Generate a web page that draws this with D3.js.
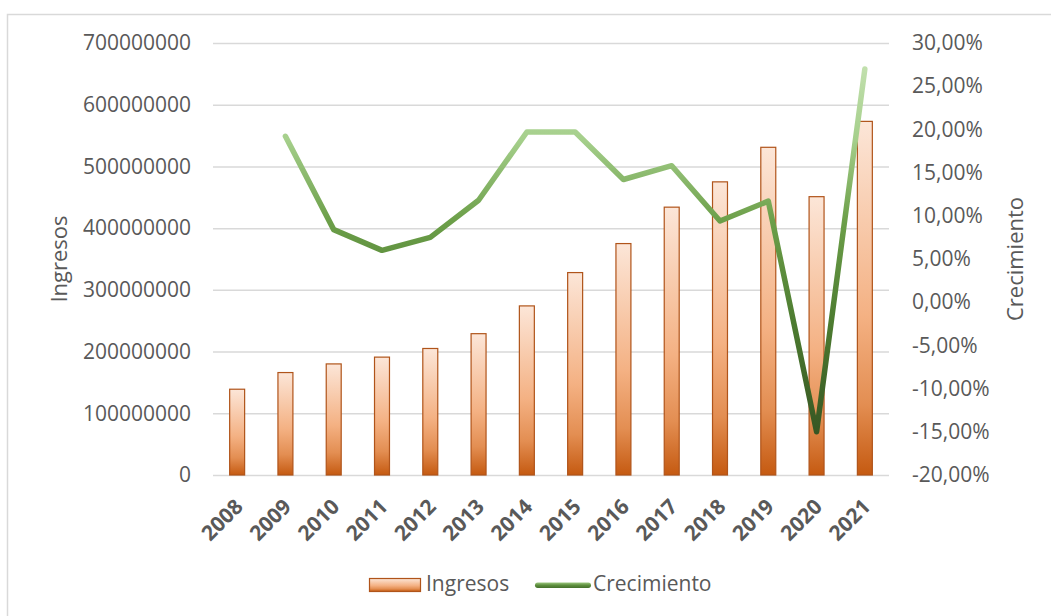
<!DOCTYPE html>
<html>
<head>
<meta charset="utf-8">
<script src="https://cdn.jsdelivr.net/npm/d3@7/dist/d3.min.js"></script>
<style>
  html, body { margin: 0; padding: 0; background: #fff; }
  svg { display: block; }
  text { font-family: "Open Sans", "Noto Sans", sans-serif; fill: #595959; }
</style>
</head>
<body>
<svg id="chart" width="1051" height="616"></svg>
<script>
// Yearly revenue (bars, left axis) and year-over-year growth in % (line, right axis)
const years = ["2008","2009","2010","2011","2012","2013","2014","2015","2016","2017","2018","2019","2020","2021"];
const ingresos = [139e6, 166e6, 180e6, 191e6, 205e6, 229e6, 274e6, 328e6, 375e6, 434e6, 475e6, 531e6, 451e6, 573e6];
const crecimiento = [null, 19.2, 8.4, 6.0, 7.5, 11.8, 19.7, 19.7, 14.2, 15.8, 9.4, 11.7, -15.0, 27.0];
const leftTicks = [0, 100e6, 200e6, 300e6, 400e6, 500e6, 600e6, 700e6];
const rightTicks = [-20, -15, -10, -5, 0, 5, 10, 15, 20, 25, 30];

const svg = d3.select("#chart");
const plot = { left: 213, right: 889, top: 43, bottom: 475 };

// Chart frame
svg.append("rect")
  .attr("x", 7.5).attr("y", 14.5).attr("width", 1100).attr("height", 700)
  .attr("fill", "#fff").attr("stroke", "#d9d9d9").attr("stroke-width", 1.5);

const x = d3.scaleBand().domain(years).range([plot.left, plot.right])
  .paddingInner(0.69).paddingOuter(0.345);
const yL = d3.scaleLinear().domain([0, 700e6]).range([plot.bottom, plot.top]);
const yR = d3.scaleLinear().domain([-20, 30]).range([plot.bottom, plot.top]);

// Gradients
const defs = svg.append("defs");
const barGrad = defs.append("linearGradient").attr("id", "barGrad")
  .attr("x1", 0).attr("y1", 0).attr("x2", 0).attr("y2", 1);
[[0, "#fce6d8"], [0.55, "#f4b183"], [0.8, "#e38e52"], [1, "#c55a11"]].forEach(([o, c]) =>
  barGrad.append("stop").attr("offset", o).attr("stop-color", c));

const lineGrad = defs.append("linearGradient").attr("id", "lineGrad")
  .attr("gradientUnits", "userSpaceOnUse")
  .attr("x1", 0).attr("x2", 0)
  .attr("y1", yR(d3.max(crecimiento)) - 3).attr("y2", yR(d3.min(crecimiento)) + 3);
[[0, "#c2e0ae"], [0.2, "#a5cf8b"], [0.42, "#6c9f49"], [0.7, "#4c7b30"], [1, "#375623"]].forEach(([o, c]) =>
  lineGrad.append("stop").attr("offset", o).attr("stop-color", c));

const legGrad = defs.append("linearGradient").attr("id", "legGrad")
  .attr("x1", 0).attr("y1", 0).attr("x2", 0).attr("y2", 1);
[[0, "#9cc77f"], [0.5, "#5e8f3e"], [1, "#44702b"]].forEach(([o, c]) =>
  legGrad.append("stop").attr("offset", o).attr("stop-color", c));

// Gridlines (left axis)
const gridAxis = d3.axisLeft(yL).tickValues(leftTicks).tickSize(-(plot.right - plot.left)).tickFormat("");
const grid = svg.append("g").attr("transform", `translate(${plot.left},0)`).call(gridAxis);
grid.select(".domain").remove();
grid.selectAll("line").attr("stroke", "#d9d9d9").attr("stroke-width", 1.5);

// Left axis labels
const leftAxis = d3.axisLeft(yL).tickValues(leftTicks).tickSize(0).tickPadding(22)
  .tickFormat(d => d3.format("d")(d));
const gl = svg.append("g").attr("transform", `translate(${plot.left},0)`).call(leftAxis);
gl.select(".domain").remove();
gl.selectAll("text").attr("font-size", 21).attr("fill", "#595959")
  .style("font-family", '"Open Sans", sans-serif');

// Right axis labels (decimal comma, plain hyphen for negatives)
const rightAxis = d3.axisRight(yR).tickValues(rightTicks).tickSize(0).tickPadding(23)
  .tickFormat(d => d.toFixed(2).replace(".", ",") + "%");
const gr = svg.append("g").attr("transform", `translate(${plot.right},0)`).call(rightAxis);
gr.select(".domain").remove();
gr.selectAll("text").attr("font-size", 21).attr("fill", "#595959")
  .style("font-family", '"Open Sans", sans-serif');

// Bars
svg.append("g").selectAll("rect").data(years).join("rect")
  .attr("x", d => x(d))
  .attr("y", (d, i) => yL(ingresos[i]))
  .attr("width", x.bandwidth())
  .attr("height", (d, i) => yL(0) - yL(ingresos[i]))
  .attr("fill", "url(#barGrad)")
  .attr("stroke", "#b0541a").attr("stroke-width", 1.2);

// Growth line
const pts = years.map((d, i) => ({ year: d, v: crecimiento[i] })).filter(p => p.v !== null);
const line = d3.line().x(p => x(p.year) + x.bandwidth() / 2).y(p => yR(p.v));
svg.append("path").datum(pts)
  .attr("d", line)
  .attr("fill", "none")
  .attr("stroke", "url(#lineGrad)")
  .attr("stroke-width", 5.5)
  .attr("stroke-linejoin", "round")
  .attr("stroke-linecap", "round");

// Category axis labels, rotated
const xAxis = d3.axisBottom(x).tickSize(0).tickPadding(0);
const gx = svg.append("g").attr("transform", `translate(0,${plot.bottom})`).call(xAxis);
gx.select(".domain").remove();
gx.selectAll("text")
  .attr("font-size", 21).attr("font-weight", 700).attr("fill", "#595959")
  .style("font-family", '"Open Sans", sans-serif')
  .attr("text-anchor", "end")
  .attr("dy", null).attr("y", 0)
  .attr("transform", "translate(3,29) rotate(-45)")
  .attr("dominant-baseline", "middle");

// Axis titles
svg.append("text").attr("transform", `translate(61,${(plot.top + plot.bottom) / 2}) rotate(-90)`)
  .attr("text-anchor", "middle").attr("dominant-baseline", "middle")
  .attr("font-size", 22).text("Ingresos");
svg.append("text").attr("transform", `translate(1017,${(plot.top + plot.bottom) / 2}) rotate(-90)`)
  .attr("text-anchor", "middle").attr("dominant-baseline", "middle")
  .attr("font-size", 22).text("Crecimiento");

// Legend
const leg = svg.append("g");
leg.append("rect").attr("x", 369.5).attr("y", 578.5).attr("width", 51).attr("height", 13)
  .attr("fill", "url(#barGrad)").attr("stroke", "#b0541a").attr("stroke-width", 1.2);
leg.append("text").attr("x", 426).attr("y", 585).attr("dominant-baseline", "middle")
  .attr("font-size", 21).text("Ingresos");
leg.append("rect").attr("x", 535).attr("y", 582.5).attr("width", 56).attr("height", 5.5).attr("rx", 2.7)
  .attr("fill", "url(#legGrad)");
leg.append("text").attr("x", 593).attr("y", 585).attr("dominant-baseline", "middle")
  .attr("font-size", 21).text("Crecimiento");
</script>
</body>
</html>
